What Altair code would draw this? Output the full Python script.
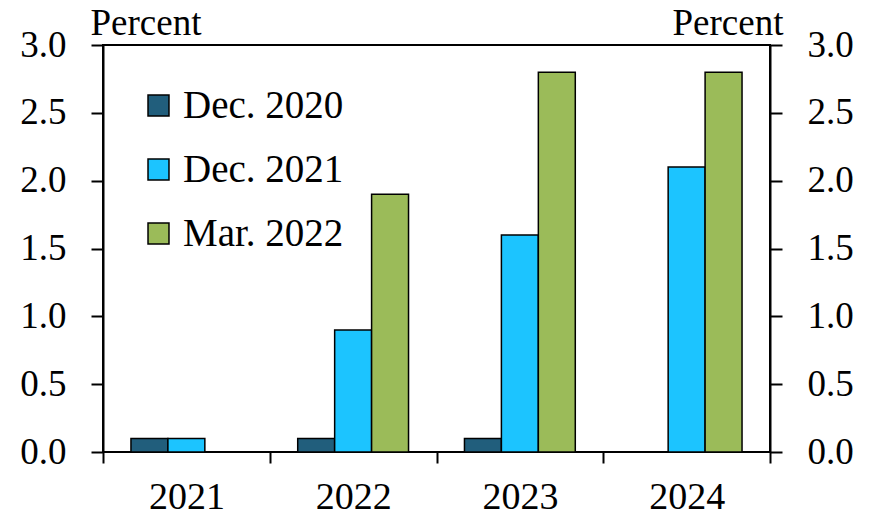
import altair as alt
import pandas as pd

years = ["2021", "2022", "2023", "2024"]
series = ["Dec. 2020", "Dec. 2021", "Mar. 2022"]
dec2020 = [0.1, 0.1, 0.1, None]
dec2021 = [0.1, 0.9, 1.6, 2.1]
mar2022 = [None, 1.9, 2.8, 2.8]
colors = ["#215E7C", "#1CC4FF", "#9BBB59"]
y_ticks = [0.0, 0.5, 1.0, 1.5, 2.0, 2.5, 3.0]

rows = []
for s, vals in zip(series, [dec2020, dec2021, mar2022]):
    for yr, v in zip(years, vals):
        if v is not None:
            rows.append({"year": yr, "series": s, "value": v})
df = pd.DataFrame(rows)

FONT = "Liberation Serif"
FS = 37
TFS = 37

common_axis = dict(labelFont=FONT, titleFont=FONT, labelColor="black", titleColor="black",
                   domainColor="black", tickColor="black", domainWidth=2, tickWidth=2)

x_enc = alt.X("year:N", sort=years,
              scale=alt.Scale(paddingInner=0, paddingOuter=0),
              axis=alt.Axis(title=None, labelAngle=0, tickBand="extent", tickSize=11,
                            labelPadding=15, domain=False, labelFontSize=38, **common_axis))
xo_enc = alt.XOffset("series:N", sort=series,
                     scale=alt.Scale(domain=series, paddingInner=0, paddingOuter=0.757))

yscale = alt.Scale(domain=[0, 3], nice=False)

bars = alt.Chart(df).mark_bar(stroke="black", strokeWidth=1.5).encode(
    x=x_enc,
    xOffset=xo_enc,
    y=alt.Y("value:Q", scale=yscale,
            axis=alt.Axis(orient="left", values=y_ticks, format=".1f", tickSize=12,
                          labelPadding=25, grid=False, title="Percent", titleAngle=0,
                          titleAlign="left", titleBaseline="alphabetic", titleX=-13,
                          titleY=-11, titleFontWeight="normal", titleFontSize=TFS,
                          labelFontSize=FS, **common_axis)),
    color=alt.Color("series:N", sort=series,
                    scale=alt.Scale(domain=series, range=colors),
                    legend=alt.Legend(title=None, orient="none", legendX=36, legendY=41,
                                      symbolType="square", symbolSize=440,
                                      symbolStrokeColor="black", symbolStrokeWidth=1.5,
                                      labelFontSize=39, labelFont=FONT, labelColor="black",
                                      labelLimit=0, labelOffset=5, rowPadding=24,
                                      symbolOpacity=1)),
)

right = alt.Chart(df).mark_bar(opacity=0).encode(
    x=x_enc,
    xOffset=xo_enc,
    y=alt.Y("value:Q", scale=yscale,
            axis=alt.Axis(orient="right", values=y_ticks, format=".1f", tickSize=12,
                          labelPadding=25, grid=False, title="Percent", titleAngle=0,
                          titleAlign="right", titleBaseline="alphabetic", titleX=13,
                          titleY=-11, titleFontWeight="normal", titleFontSize=TFS,
                          labelFontSize=FS, **common_axis)),
)

chart = alt.layer(bars, right).resolve_axis(y="independent").properties(
    width=667, height=407,
    background="white",
    autosize=alt.AutoSizeParams(type="none"),
    padding={"left": 103, "top": 45, "right": 103, "bottom": 66},
).configure_view(stroke="black", strokeWidth=2)

chart.save("out.html", embed_options={"renderer": "svg", "actions": False})
